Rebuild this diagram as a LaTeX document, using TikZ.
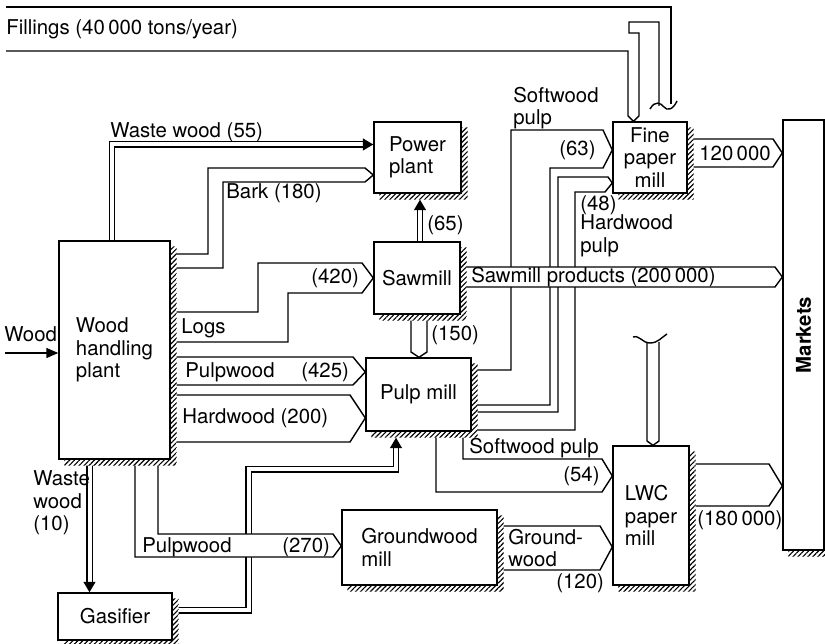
\documentclass[tikz,border=0pt]{standalone}
\usepackage{graphicx}
\usepackage{fontspec}
\setmainfont{TeX Gyre Heros}
\usetikzlibrary{arrows.meta,patterns.meta,backgrounds}
\tikzset{
  plantbox/.style={draw,fill=white,line width=0.8pt,inner sep=0pt,align=left},
  flowband/.style={draw,fill=white,line width=0.8pt},
  flowline/.style={line width=0.8pt},
  thinflow/.style={double=white,double distance=0.08cm,line width=0.7pt,-{Triangle[length=0.21cm,width=0.24cm]}},
  hatch/.style={preaction={fill=white},pattern={Lines[angle=45,distance=2pt,line width=0.65pt]}},
  flowlabel/.style={inner sep=0pt,anchor=west,align=left},
}
\newcommand{\boxshadow}[1]{%
  \path[hatch] ([yshift=-0.12cm]#1.north east) -- ([xshift=0.12cm,yshift=-0.12cm]#1.north east)
    -- ([xshift=0.12cm,yshift=-0.12cm]#1.south east) -- ([xshift=0.12cm,yshift=-0.12cm]#1.south west)
    -- ([xshift=0.12cm]#1.south west) -- (#1.south east) -- cycle;}

\begin{document}
\begin{tikzpicture}[x=0.02cm,y=-0.02cm,font=\fontsize{11.6}{12.8}\selectfont]
\path[use as bounding box] (0,0) rectangle (825,644);

\node[plantbox,minimum width=2.22cm,minimum height=4.36cm] (whp) at (114.5,350) {Wood\\handling\\plant};
\node[plantbox,minimum width=1.74cm,minimum height=1.42cm] (pp) at (417.5,157.5) {Power\\plant};
\node[plantbox,minimum width=1.72cm,minimum height=1.44cm] (saw) at (417,278) {Sawmill};
\node[plantbox,minimum width=2.10cm,minimum height=1.46cm] (pulp) at (418.5,394.5) {Pulp mill};
\node[plantbox,align=center,minimum width=1.48cm,minimum height=1.42cm] (fpm) at (650,157.5) {Fine\\paper\\mill};
\node[plantbox,minimum width=1.52cm,minimum height=2.78cm] (lwc) at (651,515.5) {LWC\\paper\\mill};
\node[plantbox,minimum width=3.10cm,minimum height=1.50cm] (gw) at (419.5,547.5) {Groundwood\\mill};
\node[plantbox,minimum width=2.28cm,minimum height=0.94cm] (gas) at (115,616.5) {Gasifier};
\node[plantbox,minimum width=0.82cm,minimum height=8.6cm] (mkt) at (803.5,335) {\rotatebox{90}{\textbf{Markets}}};

\begin{pgfonlayer}{background}
\draw[flowline] (6,7) -| (671,104);
\draw[flowline] (6,51) -| (628,116) -- (fpm.north -| 633.5,0) -- (639,116) |- (629,33) |- (659,22) -- (659,106);
\draw[flowline] (650,109) .. controls (655,100) and (661,103) .. (664,107) .. controls (667,111) and (673,110) .. (677,101);
\draw[flowline] (647,342) -- (647,441) -- (lwc.north -| 653,0) -- (659,441) -- (659,342);
\draw[flowline] (633,337) .. controls (640,335) and (642,343) .. (650,343) .. controls (658,343) and (662,337) .. (667,334);

\coordinate (woodin) at (5,353);
\draw[flowline,-{Triangle[length=0.24cm,width=0.2cm]}] (woodin) -- (whp.west |- woodin);
\draw[thinflow] (whp.north -| 112,0) |- (pp.west |- 0,144.5);
\draw[thinflow] (whp.south -| 89.5,0) -- (gas.north -| 89.5,0);
\draw[thinflow,shorten >=0.12cm] (saw.north -| 420,0) -- (pp.south -| 420,0);
\draw[thinflow,shorten >=0.12cm] (gas.east |- 0,610.5) -| (248.5,469.5) -| (pulp.south -| 396,0);

\draw[flowband] (whp.east |- 0,254) -| (208,168) -- (365,168) -- (pp.west |- 0,175) -- (365,182) -| (223,268) -- (whp.east |- 0,268);
\draw[flowband] (whp.east |- 0,312) -| (258,263) -- (362,263) -- (saw.west |- 0,278) -- (362,293) -| (288,342) -- (whp.east |- 0,342);
\draw[flowband] (whp.east |- 0,357) -- (353,357) -- (pulp.west |- 0,372) -- (353,385) -- (whp.east |- 0,385);
\draw[flowband] (whp.east |- 0,395) -- (350,395) -- (pulp.west |- 0,418) -- (350,442) -- (whp.east |- 0,442);
\draw[flowband] (whp.south -| 135,0) |- (333,557) -- (gw.west |- 0,546) -- (333,534) -| (whp.south -| 158,0);
\draw[flowband] (saw.south -| 411,0) -- (411,352) -- (pulp.north -| 419,0) -- (427,352) -- (saw.south -| 427,0);
\draw[flowband] (pulp.east |- 0,370) -| (511,130) -- (603,130) -- (fpm.west |- 0,150) -- (603,168) -| (550,405) -- (pulp.east |- 0,405);
\draw[flowband] (pulp.east |- 0,412) -| (558,177) -- (608,177) -- (fpm.west |- 0,183) -- (605,192) -| (575,430) -- (pulp.east |- 0,430);
\draw[flowband] (saw.east |- 0,267) -- (775,267) -- (mkt.west |- 0,277) -- (775,287) -- (saw.east |- 0,287);
\draw[flowband] (pulp.south -| 436,0) |- (602,492) -- (lwc.west |- 0,476) -- (602,459) -| (pulp.south -| 463,0);
\draw[flowband] (gw.east |- 0,526) -- (600,526) -- (lwc.west |- 0,547) -- (600,570) -- (gw.east |- 0,570);
\draw[flowband] (fpm.east |- 0,139) -- (773,139) -- (mkt.west |- 0,153) -- (773,167) -- (fpm.east |- 0,167);
\draw[flowband] (lwc.east |- 0,464) -- (769,464) -- (mkt.west |- 0,486) -- (769,506) -- (lwc.east |- 0,506);

\boxshadow{whp}
\boxshadow{pp}
\boxshadow{saw}
\boxshadow{pulp}
\boxshadow{fpm}
\boxshadow{lwc}
\boxshadow{gw}
\boxshadow{gas}
\boxshadow{mkt}
\end{pgfonlayer}

\node[flowlabel] at (6,29) {Fillings (40\,000 tons/year)};
\node[flowlabel] at (110,132) {Waste wood (55)};
\node[flowlabel] at (226,193) {Bark (180)};
\node[flowlabel] at (427,225) {(65)};
\node[flowlabel] at (513,108) {Softwood\\pulp};
\node[flowlabel] at (559,150) {(63)};
\node[flowlabel] at (580,205) {(48)};
\node[flowlabel] at (580,236) {Hardwood\\pulp};
\node[flowlabel] at (699,153) {120\,000};
\node[flowlabel] at (311,278) {(420)};
\node[flowlabel] at (471,277) {Sawmill products (200\,000)};
\node[flowlabel] at (181,328) {Logs};
\node[flowlabel] at (431,335) {(150)};
\node[flowlabel] at (4,334) {Wood};
\node[flowlabel] at (185,372) {Pulpwood};
\node[flowlabel] at (301,372) {(425)};
\node[flowlabel] at (182,418) {Hardwood (200)};
\node[flowlabel] at (469,448) {Softwood pulp};
\node[flowlabel] at (563,476) {(54)};
\node[flowlabel] at (33,503) {Waste\\wood\\(10)};
\node[flowlabel] at (142,547) {Pulpwood};
\node[flowlabel] at (282,547) {(270)};
\node[flowlabel] at (508,548) {Ground-\\wood};
\node[flowlabel] at (556,583) {(120)};
\node[flowlabel] at (697,520) {(180\,000)};
\end{tikzpicture}
\end{document}
